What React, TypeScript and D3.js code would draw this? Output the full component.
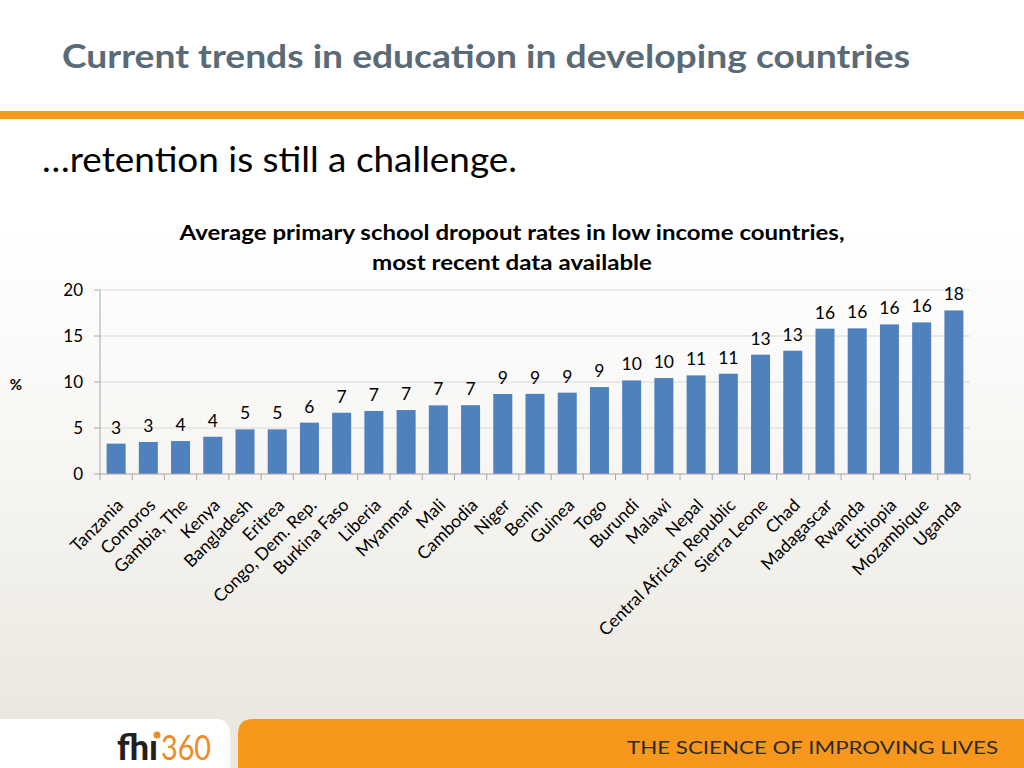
import React from 'react';
import * as d3 from 'd3';

const countries = [
  'Tanzania', 'Comoros', 'Gambia, The', 'Kenya', 'Bangladesh', 'Eritrea', 'Congo, Dem. Rep.',
  'Burkina Faso', 'Liberia', 'Myanmar', 'Mali', 'Cambodia', 'Niger', 'Benin', 'Guinea', 'Togo',
  'Burundi', 'Malawi', 'Nepal', 'Central African Republic', 'Sierra Leone', 'Chad', 'Madagascar',
  'Rwanda', 'Ethiopia', 'Mozambique', 'Uganda',
];
const dropoutRates = [
  3.3, 3.48, 3.58, 4.05, 4.85, 4.85, 5.58, 6.66, 6.85, 6.95, 7.46, 7.48, 8.7, 8.71, 8.84, 9.45,
  10.17, 10.43, 10.72, 10.9, 12.97, 13.4, 15.8, 15.83, 16.26, 16.48, 17.78,
];
const yTicks = [0, 5, 10, 15, 20];

const W = 1024;
const H = 768;
const FONT = 'Lato, "Open Sans", sans-serif';

const App: React.FC = () => {
  const x = d3.scaleBand<string>()
    .domain(countries)
    .range([100, 970])
    .paddingInner(0.41)
    .paddingOuter(0.205);
  const y = d3.scaleLinear().domain([0, 20]).range([474, 290]);
  const step = x.step();
  const x0 = x.range()[0];

  return (
    <svg width={W} height={H} style={{ position: 'absolute', left: 0, top: 0 }}>
      <defs>
        <linearGradient id="bg" x1="0" y1="0" x2="0" y2="1">
          <stop offset="0.3" stopColor="#ffffff" />
          <stop offset="0.6" stopColor="#f7f6f3" />
          <stop offset="0.93" stopColor="#ebe8e0" />
        </linearGradient>
      </defs>
      <rect x={0} y={0} width={W} height={H} fill="url(#bg)" />

      {/* header */}
      <text x={62} y={68} fontFamily={FONT} fontWeight={700} fontSize={33} fill="#5a6a76"
        textLength={848} lengthAdjust="spacingAndGlyphs">
        Current trends in education in developing countries
      </text>
      <rect x={0} y={111} width={W} height={8} fill="#f7981d" />
      <text x={42} y={172} fontFamily={FONT} fontSize={34} fill="#000"
        textLength={475} lengthAdjust="spacingAndGlyphs">
        …retention is still a challenge.
      </text>

      {/* chart title */}
      <text x={512} y={240} textAnchor="middle" fontFamily={FONT} fontWeight={700} fontSize={20} fill="#000"
        textLength={665} lengthAdjust="spacingAndGlyphs">
        Average primary school dropout rates in low income countries,
      </text>
      <text x={512} y={270} textAnchor="middle" fontFamily={FONT} fontWeight={700} fontSize={20} fill="#000"
        textLength={280} lengthAdjust="spacingAndGlyphs">
        most recent data available
      </text>

      {/* gridlines and y axis */}
      {yTicks.filter(t => t > 0).map(t => (
        <line key={`g${t}`} x1={100} x2={970} y1={y(t)} y2={y(t)} stroke="#d9d9d9" strokeWidth={1} />
      ))}
      <line x1={100} x2={100} y1={y(20)} y2={y(0)} stroke="#a6a6a6" />
      {yTicks.map(t => (
        <g key={`t${t}`}>
          <line x1={94} x2={100} y1={y(t)} y2={y(t)} stroke="#a6a6a6" />
          <text x={83} y={y(t)} dy="0.36em" textAnchor="end" fontFamily={FONT} fontSize={17} fill="#000">{t}</text>
        </g>
      ))}
      <text x={16} y={385} dy="0.36em" textAnchor="middle" fontFamily={FONT} fontWeight={700} fontSize={15}>%</text>

      {/* bars */}
      {countries.map((c, i) => (
        <rect key={c} x={x(c)} y={y(dropoutRates[i])} width={x.bandwidth()}
          height={y(0) - y(dropoutRates[i])} fill="#4f81bd" />
      ))}
      {countries.map((c, i) => (
        <text key={`l${c}`} x={(x(c) ?? 0) + x.bandwidth() / 2} y={y(dropoutRates[i]) - 10}
          textAnchor="middle" fontFamily={FONT} fontSize={17.5} fill="#000">
          {Math.round(dropoutRates[i])}
        </text>
      ))}

      {/* x axis */}
      <line x1={100} x2={970} y1={y(0)} y2={y(0)} stroke="#a6a6a6" />
      {d3.range(countries.length + 1).map(i => (
        <line key={`xt${i}`} x1={x0 + i * step} x2={x0 + i * step} y1={y(0)} y2={y(0) + 6} stroke="#a6a6a6" />
      ))}
      {countries.map(c => {
        const cx = (x(c) ?? 0) + x.bandwidth() / 2;
        return (
          <text key={`x${c}`} transform={`translate(${cx + 4},${y(0) + 28}) rotate(-45)`}
            textAnchor="end" dy="0.35em" fontFamily={FONT} fontSize={17.5} fill="#000">
            {c}
          </text>
        );
      })}

      {/* footer */}
      <path d={`M0,719 H215 Q230,719 230,734 V768 H0 Z`} fill="#ffffff" />
      <path d={`M238,734 Q238,719 253,719 H1024 V768 H238 Z`} fill="#f7981d" />
      <text x={117} y={760} fontFamily={FONT} fontWeight={900} fontSize={36} fill="#231f20"
        textLength={41} lengthAdjust="spacingAndGlyphs">fhı</text>
      <circle cx={157} cy={735} r={3.5} fill="#f08a24" />
      <text x={161} y={760} fontFamily={FONT} fontWeight={400} fontSize={35} fill="#f08a24"
        textLength={50} lengthAdjust="spacingAndGlyphs">360</text>
      <text x={627} y={754} fontFamily={FONT} fontSize={17} fill="#2b2b2b"
        textLength={371} lengthAdjust="spacingAndGlyphs">THE SCIENCE OF IMPROVING LIVES</text>
    </svg>
  );
};

export default App;
